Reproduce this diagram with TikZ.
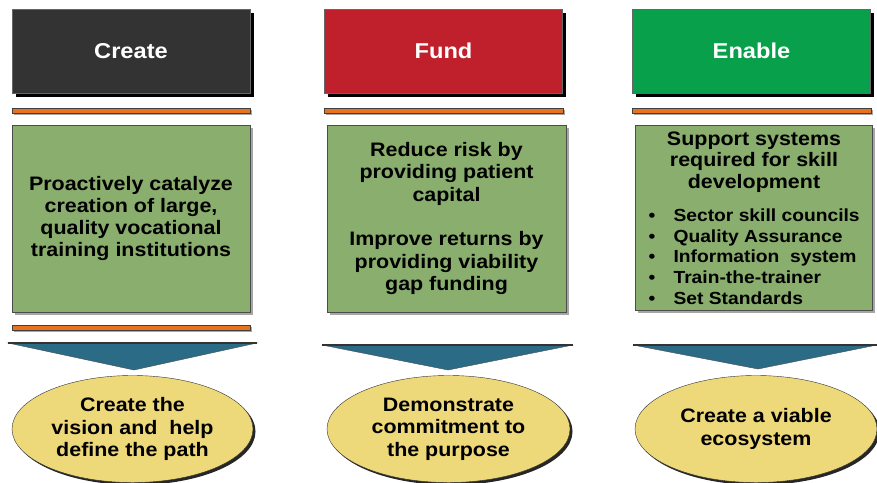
\documentclass[tikz,border=0pt]{standalone}
\usepackage{fontspec}
\setmainfont{Liberation Sans}[FakeStretch=1.1]
\usetikzlibrary{shapes.geometric, positioning, shadows}

\definecolor{createhead}{HTML}{333333}
\definecolor{fundhead}{HTML}{C0202B}
\definecolor{enablehead}{HTML}{08A04B}
\definecolor{barorange}{HTML}{E8731E}
\definecolor{boxgreen}{HTML}{8AAE6D}
\definecolor{chevteal}{HTML}{2C6B86}
\definecolor{goalyellow}{HTML}{EED97A}

\begin{document}
\begin{tikzpicture}[x=1pt, y=-1pt]

    % Define styles
    \tikzstyle{header} = [rectangle, draw=black!60, text=white, minimum width=238pt, minimum height=84pt, font=\bfseries\fontsize{21.5}{24}\selectfont, drop shadow={shadow xshift=3.5pt, shadow yshift=-3.5pt, fill=black, opacity=1}]
    \tikzstyle{bar} = [rectangle, draw=black!75, fill=barorange, minimum width=238pt, minimum height=5pt, inner sep=0pt, drop shadow={shadow xshift=2pt, shadow yshift=-2pt, fill=black, opacity=0.35}]
    \tikzstyle{content} = [rectangle, draw=black!70, fill=boxgreen, minimum width=238pt, minimum height=187pt, align=center, font=\bfseries\fontsize{19.5}{22.3}\selectfont, drop shadow={shadow xshift=3pt, shadow yshift=-3pt, fill=black, opacity=0.35}]
    \tikzstyle{goal} = [ellipse, draw=black!80, fill=goalyellow, minimum width=241pt, minimum height=107pt, inner sep=0pt, align=center, font=\bfseries\fontsize{19.5}{22.5}\selectfont, drop shadow={shadow xshift=2.5pt, shadow yshift=-2.5pt, fill=black, opacity=0.85}]
    \tikzstyle{chevron} = [draw=black!70, fill=chevteal]

    \useasboundingbox (0,0) rectangle (877,482);

    % Headers
    \node[header, fill=createhead] (create) at (131, 51) {Create};
    \node[header, fill=fundhead] (fund) at (443.5, 51) {Fund};
    \node[header, fill=enablehead] (enable) at (751.5, 51) {Enable};

    % Orange bars
    \node[bar] (createbar) at (131, 110.5) {};
    \node[bar, minimum width=239pt] (fundbar) at (443.5, 110.5) {};
    \node[bar, minimum width=239pt] (enablebar) at (751.5, 110.5) {};
    \node[bar] (createbarlow) at (131, 327.5) {};

    % Content boxes
    \node[content] (createbox) at (131, 218.5) {Proactively catalyze\\creation of large,\\quality vocational\\training institutions};
    \node[content, minimum width=239pt] (fundbox) at (446.5, 218.5) {Reduce risk by\\providing patient\\capital\\[22.3pt]Improve returns by\\providing viability\\gap funding};
    \node[content, minimum width=237pt, minimum height=185pt] (enablebox) at (753.5, 217.5) {};
    \node[align=center, font=\bfseries\fontsize{19.5}{21.7}\selectfont] (enabletitle) at (754, 162) {Support systems\\required for skill\\development};
    \node[anchor=west, align=left, font=\bfseries\fontsize{17.5}{20.7}\selectfont] (enablelist) at (645, 256.5) {\makebox[25pt][l]{•}Sector skill councils\\\makebox[25pt][l]{•}Quality Assurance\\\makebox[25pt][l]{•}Information\ \ system\\\makebox[25pt][l]{•}Train-the-trainer\\\makebox[25pt][l]{•}Set Standards};

    % Chevrons
    \coordinate (createtip) at (134, 370);
    \coordinate (fundtip) at (448, 370);
    \coordinate (enabletip) at (758, 369);
    \fill[chevron] (8, 343) -- (257, 343) -- (createtip) -- cycle;
    \fill[chevron] (322, 345) -- (573, 345) -- (fundtip) -- cycle;
    \fill[chevron] (633, 345) -- (877, 345) -- (enabletip) -- cycle;
    \draw[black!80, line width=1.2pt] (8, 343) -- (257, 343);
    \draw[black!80, line width=1.2pt] (322, 345) -- (573, 345);
    \draw[black!80, line width=1.2pt] (633, 345) -- (877, 345);

    % Goals
    \node[goal] (creategoal) at (132.5, 429) {Create the\\vision and\ \ help\\define the path};
    \node[goal, minimum width=243pt] (fundgoal) at (448.5, 429) {Demonstrate\\commitment to\\the purpose};
    \node[goal, minimum width=242pt] (enablegoal) at (756, 429) {Create a viable\\ecosystem};

\end{tikzpicture}
\end{document}
